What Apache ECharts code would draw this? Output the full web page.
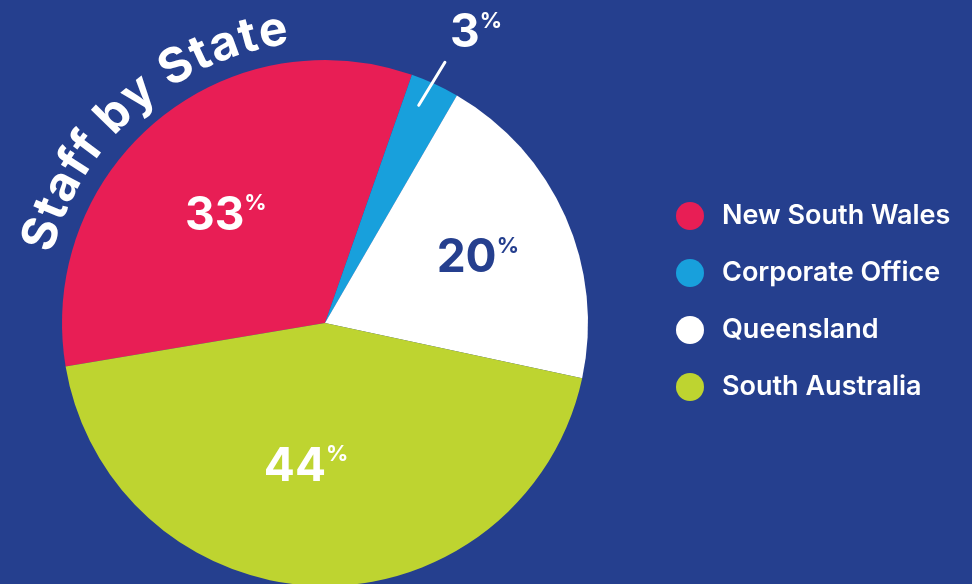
<!DOCTYPE html>
<html>
<head>
<meta charset="utf-8">
<script src="https://cdn.jsdelivr.net/npm/echarts@6/dist/echarts.min.js"></script>
<style>
  html, body { margin: 0; padding: 0; background: #253f8e; }
  #chart { width: 972px; height: 584px; }
</style>
</head>
<body>
<div id="chart"></div>
<script>
const categories = ['New South Wales', 'Corporate Office', 'Queensland', 'South Australia']
const values = [33, 3, 20, 44]
const sliceColors = ['#e81e55', '#18a0dc', '#ffffff', '#bed430']
const labelColors = ['#ffffff', '#ffffff', '#253f8e', '#ffffff']
const title = 'Staff by State'

const BG = '#253f8e'
const CX = 325, CY = 323, R = 263
const START = 260.5 // clockwise from 12 o'clock, where the first slice begins

// label placement per slice: distance from centre and small angle tweak (deg)
const labelRadius = [146, 327, 166, 145]
const labelShift = [-2.7, 2.8, 0.9, 6.2]

const total = values.reduce((a, b) => a + b, 0)
const midAngles = []
let acc = START
values.forEach(v => {
  const span = v / total * 360
  midAngles.push(acc + span / 2)
  acc += span
})

const polar = (r, deg) => {
  const a = deg * Math.PI / 180
  return [CX + r * Math.sin(a), CY - r * Math.cos(a)]
}

// curved title, one glyph at a time along an arc round the pie
const titleFont = 'bold 48px Inter'
const ctx = document.createElement('canvas').getContext('2d')
ctx.font = titleFont
const chars = title.split('')
let pos = 0
const centers = chars.map(c => {
  const w = ctx.measureText(c).width
  const m = pos + w / 2
  pos += w
  return m
})
const a0 = 287.4, a1 = 349.9, rT = 296
const titleGraphics = chars.map((c, i) => {
  if (c === ' ') return null
  const deg = a0 + (centers[i] - centers[0]) / (centers[chars.length - 1] - centers[0]) * (a1 - a0)
  const [x, y] = polar(rT, deg)
  return {
    type: 'text', x, y, rotation: -deg * Math.PI / 180, silent: true, z: 10,
    style: { text: c, font: titleFont, fill: '#ffffff', align: 'center', verticalAlign: 'middle' }
  }
}).filter(Boolean)

const rich = {
  nw: { fontFamily: 'Inter', fontWeight: 'bold', fontSize: 46, lineHeight: 46, color: '#ffffff' },
  pw: { fontFamily: 'Inter', fontWeight: 'bold', fontSize: 22, lineHeight: 46, color: '#ffffff', verticalAlign: 'top' },
  nd: { fontFamily: 'Inter', fontWeight: 'bold', fontSize: 46, lineHeight: 46, color: labelColors[2] },
  pd: { fontFamily: 'Inter', fontWeight: 'bold', fontSize: 22, lineHeight: 46, color: labelColors[2], verticalAlign: 'top' }
}
const fmt = p => {
  const i = p.dataIndex
  const k = labelColors[i] === '#ffffff' ? 'w' : 'd'
  return '{n' + k + '|' + values[i] + '}{p' + k + '|%}'
}
const placeLabel = p => {
  const i = p.dataIndex
  const [x, y] = polar(labelRadius[i], midAngles[i] + labelShift[i])
  const o = { x, y, align: 'center', verticalAlign: 'middle' }
  if (i === 1) {
    o.labelLinePoints = [polar(237, midAngles[1] - 1.4), polar(287, midAngles[1])]
  }
  return o
}

const chart = echarts.init(document.getElementById('chart'))

const option = {
  backgroundColor: BG,
  animation: false,
  graphic: titleGraphics,
  legend: {
    orient: 'vertical',
    left: 671,
    top: 197,
    icon: 'circle',
    itemWidth: 28,
    itemHeight: 28,
    itemGap: 29,
    selectedMode: false,
    textStyle: {
      color: '#ffffff',
      fontFamily: 'Inter',
      fontWeight: 600,
      fontSize: 27,
      lineHeight: 28,
      padding: [0, 0, 0, 13]
    },
    data: categories
  },
  series: [
    {
      // the slices and the labels sitting inside them
      type: 'pie',
      z: 2,
      center: [CX, CY],
      radius: R,
      startAngle: (90 - START + 360) % 360,
      clockwise: true,
      avoidLabelOverlap: false,
      emphasis: { disabled: true },
      label: {
        show: true,
        position: 'inside',
        formatter: fmt,
        rich
      },
      labelLine: { show: false },
      labelLayout: placeLabel,
      data: categories.map((name, i) => ({
        name,
        value: values[i],
        itemStyle: { color: sliceColors[i] },
        label: { show: i !== 1 }
      }))
    },
    {
      // transparent overlay carrying the small outside label and its pointer
      type: 'pie',
      z: 5,
      silent: true,
      center: [CX, CY],
      radius: 237,
      startAngle: (90 - START + 360) % 360,
      clockwise: true,
      avoidLabelOverlap: false,
      emphasis: { disabled: true },
      itemStyle: { color: 'rgba(0,0,0,0)' },
      label: { show: false, position: 'outside', formatter: fmt, rich },
      labelLine: {
        show: false, length: 50, length2: 0,
        lineStyle: { color: '#ffffff', width: 3, cap: 'round' }
      },
      labelLayout: placeLabel,
      data: categories.map((name, i) => ({
        name,
        value: values[i],
        label: { show: i === 1 },
        labelLine: { show: i === 1 }
      }))
    }
  ]
}

chart.setOption(option)
</script>
</body>
</html>
